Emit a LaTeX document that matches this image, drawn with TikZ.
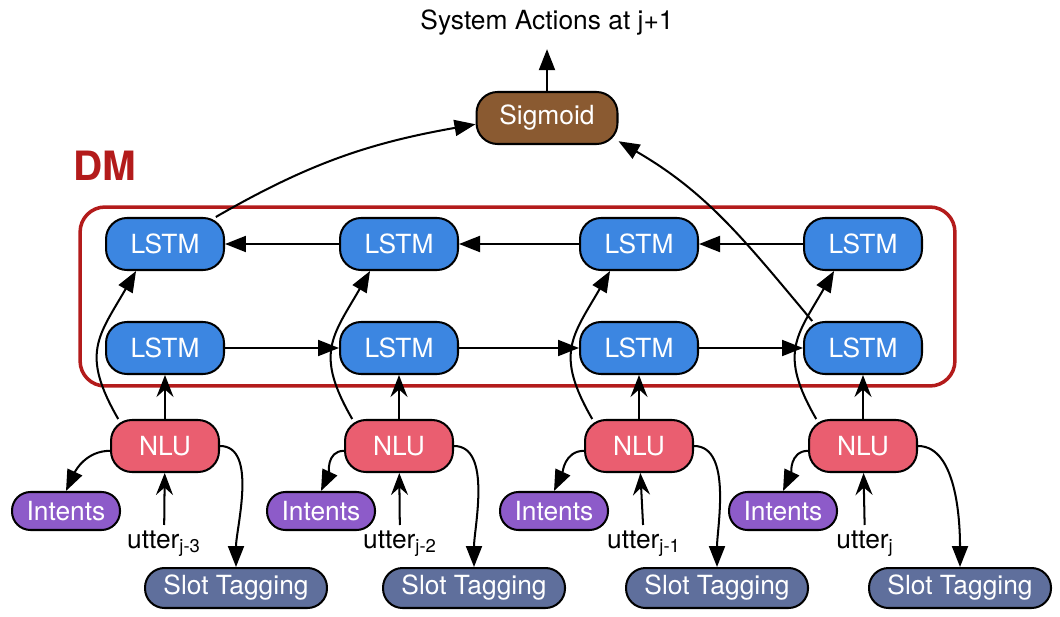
\documentclass[tikz,border=0pt]{standalone}
\usepackage{fontspec}
\setmainfont{TeX Gyre Heros}
\usetikzlibrary{arrows.meta,positioning}
\definecolor{lstmblue}{HTML}{3C86E1}
\definecolor{nlured}{HTML}{EA5E70}
\definecolor{intpurple}{HTML}{8D5BC9}
\definecolor{slotgrey}{HTML}{5F6F9C}
\definecolor{sigbrown}{HTML}{8A5A31}
\definecolor{dmred}{HTML}{B31B1B}

\begin{document}
\begin{tikzpicture}[x=0.02cm, y=0.02cm, line width=1.15pt,
  ->, >={Triangle[length=0.42cm,width=0.32cm]}]
  \tikzset{
  box/.style = {rounded corners=0.42cm, draw=black, text=white, inner sep=0pt,
    minimum height=1.04cm, font=\fontsize{15}{18}\selectfont},
  box_lstm/.style = {box, fill=lstmblue, minimum width=2.36cm},% couche LSTM
  box_nlu/.style = {box, fill=nlured, minimum width=2.16cm},% bloc NLU
  box_int/.style = {box, fill=intpurple, minimum width=2.16cm,
    minimum height=0.76cm, rounded corners=0.37cm},% intentions
  box_slot/.style = {box, fill=slotgrey, minimum width=3.64cm,
    minimum height=0.8cm, rounded corners=0.39cm},% slot tagging
  box_sig/.style = {box, fill=sigbrown, minimum width=2.82cm},% sortie
  lbl/.style = {anchor=base, inner sep=2.5pt, font=\fontsize{15}{18}\selectfont},
  dm_frame/.style = {draw=dmred, line width=2pt, rounded corners=0.5cm,
    minimum width=17.5cm, minimum height=3.58cm},
  up/.style = {-{Stealth[length=0.44cm,width=0.34cm,inset=0.15cm]}}
}

\useasboundingbox (0,0) rectangle (1060,616);

\node [dm_frame] (dm) at (517.5,319.5) {};
\node [text=dmred, font=\fontsize{23}{26}\selectfont\bfseries] (dm_label)
  at (105,450) {DM};

\node [box_sig] (sig) at (547,498) {Sigmoid};
\node [lbl] (out) at (547,586) {System Actions at j+1};

\node [box_lstm] (t1) at (165,372) {LSTM};
\node [box_lstm] (t2) at (399,372) {LSTM};
\node [box_lstm] (t3) at (639,372) {LSTM};
\node [box_lstm] (t4) at (863,372) {LSTM};

\node [box_lstm] (b1) at (165,268) {LSTM};
\node [box_lstm] (b2) at (399,268) {LSTM};
\node [box_lstm] (b3) at (639,268) {LSTM};
\node [box_lstm] (b4) at (863,268) {LSTM};

\node [box_nlu] (n1) at (165,170) {NLU};
\node [box_nlu] (n2) at (399,170) {NLU};
\node [box_nlu] (n3) at (639,170) {NLU};
\node [box_nlu] (n4) at (863,170) {NLU};

\node [box_int] (i1) at (66,105) {Intents};
\node [box_int] (i2) at (321,105) {Intents};
\node [box_int] (i3) at (554,105) {Intents};
\node [box_int] (i4) at (783,105) {Intents};

\node [lbl] (u1) at (164,68) {utter\textsubscript{j-3}};
\node [lbl] (u2) at (400,68) {utter\textsubscript{j-2}};
\node [lbl] (u3) at (644,68) {utter\textsubscript{j-1}};
\node [lbl] (u4) at (865,68) {utter\textsubscript{j}};

\node [box_slot] (s1) at (236,28) {Slot Tagging};
\node [box_slot] (s2) at (474,28) {Slot Tagging};
\node [box_slot] (s3) at (717,28) {Slot Tagging};
\node [box_slot] (s4) at (960,28) {Slot Tagging};

% recurrences
\draw (b1) -- (b2);
\draw (b2) -- (b3);
\draw (b3) -- (b4);
\draw (t4) -- (t3);
\draw (t3) -- (t2);
\draw (t2) -- (t1);

% vers la sortie
\draw (t1.28) to[out=30,in=190] (sig.185);
\draw (b4.152) to[out=130,in=-30] (sig.-18);
\draw [shorten >=0.16cm] (sig.north) -- (out.south);

% NLU
\draw [up] (u1) -- (n1);
\draw [up] (u2) -- (n2);
\draw [up] (u3) -- (n3);
\draw [up] (u4) -- (n4);
\draw [up] (n1) -- (b1);
\draw [up] (n2) -- (b2);
\draw [up] (n3) -- (b3);
\draw [up] (n4) -- (b4);
\draw (n1.150) to[out=120,in=240,looseness=1.3] (t1.223);
\draw (n2.150) to[out=120,in=240,looseness=1.3] (t2.223);
\draw (n3.150) to[out=120,in=240,looseness=1.3] (t3.223);
\draw (n4.150) to[out=120,in=240,looseness=1.3] (t4.223);
\draw (n1.185) to[out=180,in=65] (i1.north);
\draw (n2.185) to[out=180,in=65] (i2.north);
\draw (n3.185) to[out=180,in=65] (i3.north);
\draw (n4.185) to[out=180,in=65] (i4.north);
\draw (n1.east) to[out=0,in=90,looseness=0.8] (s1.north);
\draw (n2.east) to[out=0,in=90,looseness=0.8] (s2.north);
\draw (n3.east) to[out=0,in=90,looseness=0.8] (s3.north);
\draw (n4.east) to[out=0,in=90,looseness=0.8] (s4.north);
\end{tikzpicture}
\end{document}
